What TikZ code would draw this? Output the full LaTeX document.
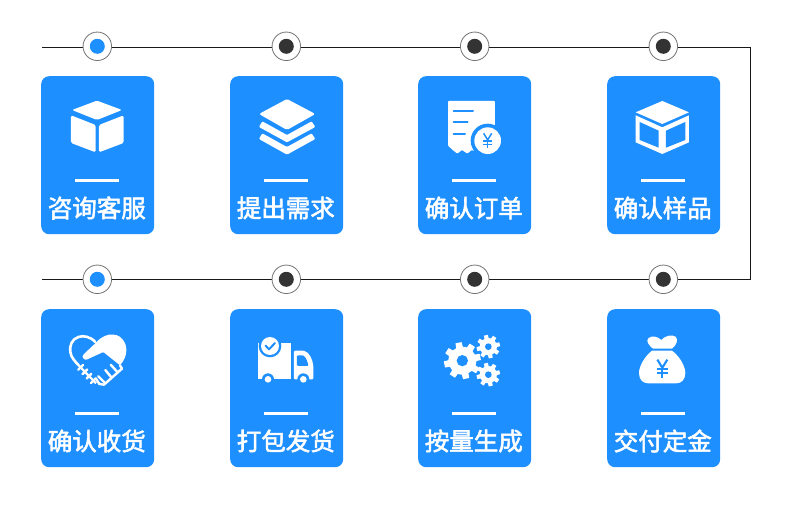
\documentclass[tikz,border=0pt]{standalone}
\usepackage{fontspec}
\usetikzlibrary{calc}
\newfontfamily\cjk[FakeBold=2.2]{Noto Sans CJK SC}
\definecolor{cardblue}{HTML}{1E8FFF}
\definecolor{dotdark}{HTML}{333333}
\tikzset{
 card/.style={fill=cardblue,rounded corners=8pt,minimum width=113pt,minimum height=158pt,inner sep=0pt,anchor=north west},
 ring/.style={circle,draw=black!55,line width=.8pt,fill=white,minimum size=28.5pt,inner sep=0pt},
 dotblue/.style={circle,fill=cardblue,minimum size=15pt,inner sep=0pt},
 dotblack/.style={circle,fill=dotdark,minimum size=15pt,inner sep=0pt},
 title/.style={text=white,font=\cjk\fontsize{24.5}{26}\selectfont,inner sep=0pt},
 bar/.style={fill=white,minimum width=44pt,minimum height=2.8pt,inner sep=0pt},
 wire/.style={draw=black!90,line width=1pt},
 zoomed/.style={shift={(#1)},x=.3333pt,y=-.3333pt},
 wf/.style={fill=white,rounded corners=#1},
 wf/.default=1.5pt,
 bl/.style={draw=cardblue,line cap=round},
}
\newcommand{\yensign}[4]{% cx, cy, half height (zoom units), linewidth
 \draw[cardblue,line width=#4] (#1-.55*#3,#2-#3) -- (#1,#2-.1*#3) -- (#1+.55*#3,#2-#3);
 \draw[cardblue,line width=#4] (#1,#2-.1*#3) -- (#1,#2+#3);
 \draw[cardblue,line width=#4] (#1-.6*#3,#2+.08*#3) -- (#1+.6*#3,#2+.08*#3);
 \draw[cardblue,line width=#4] (#1-.6*#3,#2+.5*#3) -- (#1+.6*#3,#2+.5*#3);
}
\newcommand{\cog}[6]{% cx cy body outer hole teeth
 \fill[white] (#1,#2) circle (#3);
 \foreach \a in {1,...,#6}{
  \fill[white,rotate around={360/#6*\a+12:(#1,#2)}] (#1-.22*#4,#2) -- (#1-.17*#4,#2-#4) -- (#1+.17*#4,#2-#4) -- (#1+.22*#4,#2) -- cycle;
 }
 \fill[cardblue] (#1,#2) circle (#5);
}
\begin{document}
\begin{tikzpicture}[x=1pt,y=-1pt]
\useasboundingbox (0,0) rectangle (790,510);
\fill[white] (0,0) rectangle (790,510);
% wire
\coordinate (w1) at (42,47.3);
\coordinate (w2) at (750.7,47.3);
\coordinate (w3) at (750.7,279.3);
\coordinate (w4) at (42,279.3);
\draw[wire] (w1) -- (w2) -- (w3) -- (w4);
% rings
\foreach \n/\x/\s in {a/97.3/dotblue,b/286.3/dotblack,c/474.7/dotblack,d/663.3/dotblack}{
 \node[ring] (ring1\n) at (\x,46.3) {};
 \node[\s] (dot1\n) at (ring1\n) {};
}
\foreach \n/\x/\s in {a/97.3/dotblue,b/286.3/dotblack,c/474.7/dotblack,d/663.3/dotblack}{
 \node[ring] (ring2\n) at (\x,279.3) {};
 \node[\s] (dot2\n) at (ring2\n) {};
}
% cards
\foreach \n/\x/\tA/\tB in {a/41/咨询客服/确认收货,b/230/提出需求/打包发货,c/418/确认订单/按量生成,d/607/确认样品/交付定金}{
 \node[card] (card1\n) at (\x,76) {};
 \node[card] (card2\n) at (\x,309) {};
 \node[bar] (bar1\n) at (\x+56.3,180.3) {};
 \node[bar] (bar2\n) at (\x+56.3,413.3) {};
 \node[title] (title1\n) at (\x+55.8,208) {\tA};
 \node[title] (title2\n) at (\x+55.8,441) {\tB};
}
% icon 1: cube
\begin{scope}[zoomed={30,25}]
 \fill[wf] (201,227) -- (276,255) -- (201,285) -- (126,255) -- cycle;
 \fill[wf] (123,271) -- (197,300) -- (197,382) -- (123,354) -- cycle;
 \fill[wf] (207,300) -- (281,271) -- (281,354) -- (207,382) -- cycle;
\end{scope}
% icon 2: layers
\begin{scope}[zoomed={30,25}]
 \fill[wf] (771,222) -- (856,267) -- (771,315) -- (687,267) -- cycle;
 \fill[wf=1pt] (697,289) -- (771,330) -- (845,289) -- (856,306) -- (771,352) -- (687,306) -- cycle;
 \fill[wf=1pt] (697,325) -- (771,366) -- (845,325) -- (856,342) -- (771,389) -- (687,342) -- cycle;
\end{scope}
% icon 3: receipt
\begin{scope}[zoomed={440,95}]
 \fill[white,rounded corners=.8pt] (24,18) -- (165,18) -- (165,110) -- (110,170)
   -- (95,165) -- (82,176) -- (66,165) -- (52,176) -- (38,165) -- (24,152) -- cycle;
 \draw[bl,line width=2pt] (41,48) -- (99,48);
 \draw[bl,line width=2pt] (41,82) -- (83,82);
 \draw[bl,line width=2pt] (41,116) -- (75,116);
 \fill[cardblue] (143,137) circle (51);
 \fill[white] (143,137) circle (40);
 \yensign{143}{137}{22}{1.5pt}
\end{scope}
% icon 4: open box
\begin{scope}[zoomed={410,25}]
 \fill[white] (757,228) -- (837,262) -- (757,297) -- (677,262) -- cycle;
 \fill[white] (677,271) -- (757,307) -- (837,271) -- (837,352) -- (757,387) -- (677,352) -- cycle;
 \fill[cardblue] (689,291) -- (746,317) -- (746,368) -- (689,345) -- cycle;
 \fill[cardblue] (768,317) -- (826,291) -- (826,345) -- (768,368) -- cycle;
\end{scope}
% icon 5: heart handshake
\begin{scope}[zoomed={60,328}]
 \fill[white,rounded corners=1pt] (108,44) .. controls (125,25) and (145,18) .. (160,20)
   .. controls (185,22) and (199,45) .. (199,65) .. controls (199,85) and (190,100) .. (180,112)
   -- (130,72) -- (82,94) .. controls (72,97) and (64,86) .. (72,78) -- cycle;
 \draw[white,line width=2.6pt,line cap=round] (106,42) .. controls (90,25) and (70,22) .. (55,27)
   .. controls (35,33) and (28,55) .. (31,72) .. controls (33,88) and (45,100) .. (56,112);
 \draw[white,line width=2.2pt] (56,112) -- (108,166);
 \foreach \t in {0,.33,.66,1}{
  \draw[white,line width=2.4pt,line cap=round] ($(62,118)!\t!(100,158)+(7,-7)$) -- ($(62,118)!\t!(100,158)+(-7,7)$);
 }
 \draw[white,line width=2.4pt,line cap=round,line join=round] (108,152) -- (118,168) -- (132,170) -- (186,122) -- (180,112);
 \draw[white,line width=2.4pt,line cap=round] (135,165) -- (115,145);
 \draw[white,line width=2.4pt,line cap=round] (154,148) -- (136,126);
 \draw[white,line width=2.4pt,line cap=round] (172,132) -- (152,110);
\end{scope}
% icon 6: truck
\begin{scope}[zoomed={250,330}]
 \fill[white] (24,40) rectangle (122,148);
 \fill[white,rounded corners=1pt] (132,62) -- (160,62) .. controls (178,66) and (189,90) .. (190,112) -- (190,148) -- (132,148) -- cycle;
 \fill[cardblue,rounded corners=1pt] (141,76) -- (158,76) .. controls (167,80) and (173,95) .. (175,108) -- (141,108) -- cycle;
 \fill[cardblue] (60,48) circle (34);
 \fill[white] (60,48) circle (27);
 \draw[cardblue,line width=2pt,line cap=round,line join=round] (47,47) -- (57,58) -- (75,39);
 \fill[cardblue] (54,148) circle (18);
 \fill[white] (54,148) circle (10);
 \fill[cardblue] (160,148) circle (18);
 \fill[white] (160,148) circle (10);
\end{scope}
% icon 7: gears
\begin{scope}[zoomed={438,328}]
 \cog{73}{98}{42}{55}{17}{8}
 \cog{151}{56}{26}{35}{10}{8}
 \cog{151}{140}{26}{35}{10}{8}
\end{scope}
% icon 8: money bag
\begin{scope}[zoomed={628,328}]
 \fill[white] (75,62) .. controls (62,52) and (52,38) .. (62,30) .. controls (72,22) and (88,25) .. (100,36)
   .. controls (110,24) and (130,18) .. (143,26) .. controls (152,36) and (145,52) .. (132,62) -- cycle;
 \fill[white] (72,68) -- (132,68) .. controls (155,85) and (172,115) .. (172,135)
   .. controls (172,155) and (160,166) .. (145,166) -- (60,166) .. controls (45,166) and (33,155) .. (33,135)
   .. controls (33,115) and (50,85) .. (72,68) -- cycle;
 \yensign{103}{122}{27}{2.1pt}
\end{scope}
\end{tikzpicture}
\end{document}
